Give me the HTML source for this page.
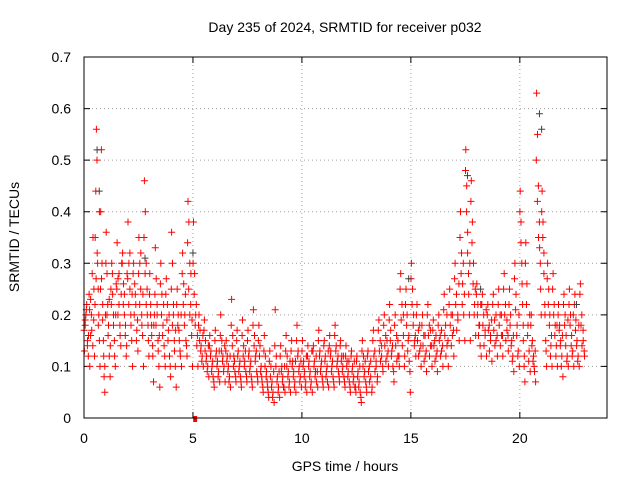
<!DOCTYPE html>
<html><head><meta charset="utf-8"><style>
body{margin:0;background:#fff}
svg{display:block;font-family:"Liberation Sans",sans-serif}
</style></head><body>
<svg id="chart" width="640" height="480" viewBox="0 0 640 480">
<rect width="640" height="480" fill="#fff"/>
<g id="grid"></g>
<g id="ticks"></g>
<g id="marks"></g>
<rect x="84" y="57" width="523" height="361" fill="none" stroke="#000" stroke-width="1"/>
<text x="345" y="32" font-size="14" text-anchor="middle">Day 235 of 2024, SRMTID for receiver p032</text>
<text x="345" y="471" font-size="14" text-anchor="middle">GPS time / hours</text>
<text transform="translate(19,237) rotate(-90)" font-size="14" text-anchor="middle">SRMTID / TECUs</text>
</svg>
<script>
const xTicks=[0,5,10,15,20];
const yTicks=[0,0.1,0.2,0.3,0.4,0.5,0.6,0.7];
const yTickLabels=["0","0.1","0.2","0.3","0.4","0.5","0.6","0.7"];
const binStart=0, binWidth=0.25;
const redBins=[
[0.13,0.18,0.2,0.22,0.15,0.12,0.24],[0.1,0.16,0.2,0.28,0.35,0.19,0.12],[0.35,0.44,0.56,0.5,0.3,0.25,0.2,0.15,0.1],[0.4,0.52,0.3,0.22,0.15,0.08,0.05,0.2],
[0.36,0.28,0.22,0.18,0.12,0.08,0.25],[0.3,0.24,0.2,0.15,0.1,0.26],[0.34,0.27,0.22,0.18,0.14,0.3],[0.32,0.26,0.2,0.16,0.12,0.28],
[0.38,0.3,0.25,0.2,0.15,0.1],[0.3,0.26,0.22,0.17,0.13],[0.35,0.3,0.25,0.2,0.16,0.1],[0.46,0.4,0.3,0.25,0.18,0.12],
[0.28,0.22,0.18,0.14,0.07,0.2],[0.33,0.27,0.2,0.15,0.1,0.06],[0.3,0.24,0.18,0.14,0.1],[0.27,0.22,0.17,0.12,0.08],
[0.36,0.3,0.2,0.15,0.1,0.06],[0.25,0.2,0.15,0.12,0.1],[0.32,0.26,0.2,0.15,0.12],[0.42,0.38,0.3,0.22,0.16,0.1],
[0.38,0.28,0.2,0.14,0.1],[0.2,0.17,0.14,0.12,0.1],[0.19,0.15,0.12,0.1,0.08],[0.16,0.13,0.1,0.08,0.06],
[0.17,0.13,0.11,0.09,0.07],[0.2,0.15,0.12,0.1,0.07],[0.15,0.12,0.1,0.08,0.06],[0.23,0.16,0.12,0.09,0.07],
[0.17,0.13,0.1,0.08,0.06],[0.19,0.14,0.11,0.09,0.07],[0.17,0.13,0.1,0.08,0.06],[0.21,0.16,0.12,0.09,0.07],
[0.18,0.14,0.1,0.07,0.05],[0.16,0.12,0.09,0.06,0.04],[0.13,0.1,0.07,0.05,0.03],[0.21,0.12,0.08,0.06,0.04],
[0.14,0.1,0.08,0.06,0.05],[0.16,0.12,0.09,0.07,0.05],[0.15,0.11,0.09,0.07,0.05],[0.18,0.13,0.1,0.08,0.06],
[0.15,0.11,0.09,0.07,0.05],[0.14,0.11,0.09,0.07,0.05],[0.14,0.11,0.09,0.07,0.06],[0.17,0.13,0.1,0.08,0.06],
[0.15,0.12,0.09,0.07,0.06],[0.16,0.13,0.1,0.08,0.06],[0.18,0.14,0.11,0.09,0.07],[0.15,0.12,0.1,0.08,0.06],
[0.14,0.11,0.09,0.07,0.05],[0.13,0.1,0.08,0.06,0.05],[0.12,0.09,0.07,0.05,0.03],[0.15,0.12,0.09,0.07,0.05],
[0.13,0.1,0.08,0.06],[0.17,0.13,0.1,0.08],[0.19,0.15,0.12,0.09],[0.2,0.16,0.12,0.1],
[0.22,0.17,0.13,0.1,0.07],[0.2,0.16,0.12,0.1],[0.28,0.22,0.16,0.12],[0.25,0.2,0.15,0.11,0.05],
[0.3,0.25,0.2,0.15,0.12],[0.22,0.17,0.13,0.1],[0.2,0.16,0.12,0.09],[0.22,0.18,0.14,0.1],
[0.19,0.15,0.12,0.09],[0.2,0.16,0.13,0.1],[0.24,0.18,0.14,0.1],[0.25,0.2,0.16,0.12],
[0.3,0.24,0.19,0.15],[0.4,0.32,0.26,0.2,0.15],[0.52,0.45,0.36,0.28,0.2,0.15],[0.46,0.38,0.3,0.22,0.16],
[0.26,0.22,0.18,0.14,0.12],[0.24,0.2,0.16,0.12],[0.22,0.18,0.15,0.11],[0.24,0.19,0.15,0.12],
[0.25,0.2,0.16,0.12],[0.28,0.22,0.17,0.13],[0.25,0.2,0.15,0.12,0.09],[0.3,0.24,0.18,0.13,0.1],
[0.44,0.38,0.3,0.22,0.15,0.1,0.07],[0.34,0.26,0.18,0.13,0.09],[0.2,0.15,0.12,0.09,0.07],[0.63,0.55,0.45,0.38,0.3,0.2],
[0.44,0.38,0.32,0.22,0.15,0.1],[0.3,0.25,0.2,0.14,0.1],[0.28,0.22,0.18,0.14,0.1],[0.22,0.18,0.15,0.12,0.08],
[0.24,0.2,0.16,0.12,0.1],[0.25,0.2,0.16,0.13,0.1],[0.24,0.19,0.15,0.12,0.1],[0.26,0.2,0.15,0.12]
];
const redBins2=[
[0.17,0.19,0.21,0.14,0.16],[0.21,0.23,0.17,0.14,0.25],[0.22,0.27,0.32,0.18,0.4],[0.25,0.27,0.19,0.12,0.1],
[0.3,0.2,0.16,0.23,0.14],[0.22,0.28,0.18,0.12,0.2],[0.25,0.2,0.28,0.16,0.24],[0.3,0.22,0.24,0.18,0.14],
[0.27,0.22,0.32,0.18,0.24],[0.28,0.2,0.24,0.15,0.19],[0.28,0.22,0.32,0.18,0.24],[0.35,0.28,0.22,0.2,0.15],
[0.24,0.2,0.16,0.12,0.18],[0.24,0.18,0.22,0.13,0.16],[0.26,0.2,0.16,0.22,0.12],[0.24,0.19,0.15,0.2,0.1],
[0.25,0.18,0.22,0.13,0.17],[0.22,0.18,0.17,0.13,0.2],[0.28,0.22,0.18,0.24,0.14],[0.34,0.25,0.2,0.28,0.19],
[0.3,0.24,0.18,0.22,0.16],[0.18,0.15,0.13,0.11,0.16],[0.17,0.13,0.11,0.09,0.14],[0.14,0.12,0.09,0.11,0.07],
[0.15,0.12,0.1,0.08,0.13],[0.16,0.13,0.11,0.09,0.14],[0.13,0.11,0.09,0.07,0.12],[0.18,0.14,0.1,0.11,0.08],
[0.15,0.12,0.09,0.11,0.07],[0.16,0.12,0.1,0.13,0.08],[0.15,0.12,0.09,0.11,0.07],[0.18,0.14,0.11,0.13,0.08],
[0.15,0.12,0.09,0.08,0.06],[0.13,0.1,0.08,0.07,0.05],[0.11,0.08,0.06,0.04,0.09],[0.14,0.1,0.07,0.05,0.09],
[0.12,0.09,0.07,0.06,0.1],[0.13,0.1,0.08,0.06,0.11],[0.13,0.1,0.08,0.06,0.11],[0.15,0.12,0.09,0.07,0.11],
[0.13,0.1,0.08,0.06,0.12],[0.12,0.1,0.08,0.06,0.13],[0.13,0.1,0.08,0.12,0.09],[0.15,0.12,0.09,0.11,0.07],
[0.14,0.11,0.08,0.1,0.13],[0.14,0.12,0.09,0.11,0.07],[0.16,0.13,0.1,0.12,0.08],[0.14,0.11,0.09,0.12,0.07],
[0.12,0.1,0.08,0.11,0.06],[0.12,0.09,0.07,0.11,0.06],[0.11,0.08,0.06,0.1,0.04],[0.13,0.1,0.08,0.11,0.06],
[0.12,0.09,0.07,0.11,0.05],[0.15,0.12,0.09,0.11,0.07],[0.17,0.13,0.11,0.14,0.1],[0.18,0.14,0.11,0.15,0.13],
[0.19,0.15,0.12,0.14,0.09],[0.18,0.14,0.11,0.15,0.12],[0.25,0.19,0.14,0.2,0.1],[0.22,0.18,0.13,0.16,0.09],
[0.27,0.22,0.18,0.14,0.16],[0.2,0.15,0.12,0.18,0.14],[0.18,0.14,0.11,0.16,0.13],[0.2,0.16,0.12,0.17,0.14],
[0.17,0.14,0.11,0.16,0.13],[0.18,0.15,0.12,0.17,0.14],[0.21,0.16,0.12,0.2,0.15],[0.22,0.18,0.14,0.2,0.17],
[0.27,0.22,0.17,0.2,0.26],[0.35,0.28,0.22,0.3,0.24],[0.48,0.4,0.32,0.24,0.3],[0.42,0.34,0.26,0.2,0.25],
[0.24,0.2,0.16,0.18,0.22],[0.22,0.18,0.14,0.17,0.21],[0.2,0.17,0.13,0.16,0.19],[0.22,0.17,0.14,0.2,0.16],
[0.22,0.18,0.14,0.2,0.16],[0.25,0.2,0.15,0.19,0.16],[0.22,0.18,0.14,0.11,0.16],[0.27,0.21,0.16,0.12,0.2],
[0.4,0.34,0.26,0.18,0.12],[0.3,0.22,0.16,0.11,0.2],[0.18,0.14,0.11,0.1,0.13],[0.5,0.42,0.35,0.33,0.25],
[0.4,0.35,0.28,0.2,0.13],[0.27,0.22,0.18,0.12,0.16],[0.25,0.2,0.16,0.12,0.18],[0.2,0.17,0.14,0.1,0.16],
[0.22,0.18,0.14,0.11,0.19],[0.22,0.18,0.14,0.12,0.2],[0.22,0.17,0.14,0.11,0.18],[0.24,0.18,0.14,0.17,0.13]
];
const greyTimes=[0.6,0.7,2.8,5.0,17.6,20.9,21.0,22.6,18.2,14.9];
const greyValues=[0.52,0.44,0.31,0.32,0.47,0.59,0.56,0.22,0.25,0.27];
const outlierTimes=[5.1];
const outlierValues=[0];

const X0=84,X1=607,Y0=418,Y1=57,XMAX=24,YMAX=0.7;
function xs(t){return X0+(X1-X0)*t/XMAX;}
function ys(v){return Y0-(Y0-Y1)*v/YMAX;}
const NS="http://www.w3.org/2000/svg";
const grid=document.getElementById('grid'),ticks=document.getElementById('ticks'),marks=document.getElementById('marks');
function el(tag,attrs,parent){const e=document.createElementNS(NS,tag);for(const k in attrs)e.setAttribute(k,attrs[k]);parent.appendChild(e);return e;}
xTicks.forEach(t=>{
  const x=xs(t);
  if(t>0){const g=el('line',{x1:x,x2:x,y1:Y0,y2:Y1,stroke:'#a0a0a0','stroke-dasharray':'1,3'},grid);
  
  }
  const tk=el('path',{d:`M${x},${Y0}v-6M${x},${Y1}v6`,stroke:'#000'},ticks);
  
  
  const lb=el('text',{x:x,y:Y0+25,'font-size':14,'text-anchor':'middle'},ticks);lb.textContent=t;
  
  
});
yTicks.forEach((v,i)=>{
  const y=ys(v);
  if(v>0&&v<YMAX){const g=el('line',{x1:X0,x2:X1,y1:y,y2:y,stroke:'#a0a0a0','stroke-dasharray':'1,3'},grid);
  
  }
  const tk=el('path',{d:`M${X0},${y}h6M${X1},${y}h-6`,stroke:'#000'},ticks);
  
  
  const lb=el('text',{x:X0-13,y:y+5,'font-size':14,'text-anchor':'end'},ticks);lb.textContent=yTickLabels[i];
  
  
});
function binPath(bins,offset){
  let d='';
  bins.forEach((vals,b)=>{
    vals.forEach((v,j)=>{
      const t=binStart+b*binWidth+binWidth*((j+offset)/vals.length);
      const x=xs(t),y=ys(v);
      d+=`M${(x-3.5).toFixed(1)},${y.toFixed(1)}h7M${x.toFixed(1)},${(y-3.5).toFixed(1)}v7`;
    });
  });
  return d;
}
const red=el('path',{d:binPath(redBins,0.5),stroke:'#ff0000','stroke-width':1,fill:'none'},marks);


const red2=el('path',{d:binPath(redBins2,0.1),stroke:'#ff0000','stroke-width':1,fill:'none'},marks);


let dg='';
greyTimes.forEach((t,i)=>{const x=xs(t),y=ys(greyValues[i]);dg+=`M${x-3.5},${y}h7M${x},${y-3.5}v7`;});
const grey=el('path',{d:dg,stroke:'#404040','stroke-width':1,fill:'none'},marks);


outlierTimes.forEach((t,i)=>{
  const r=el('rect',{x:xs(t)-2,y:ys(outlierValues[i])-2,width:4,height:6,fill:'#ff0000'},marks);
  
  
});
</script>
</body></html>
